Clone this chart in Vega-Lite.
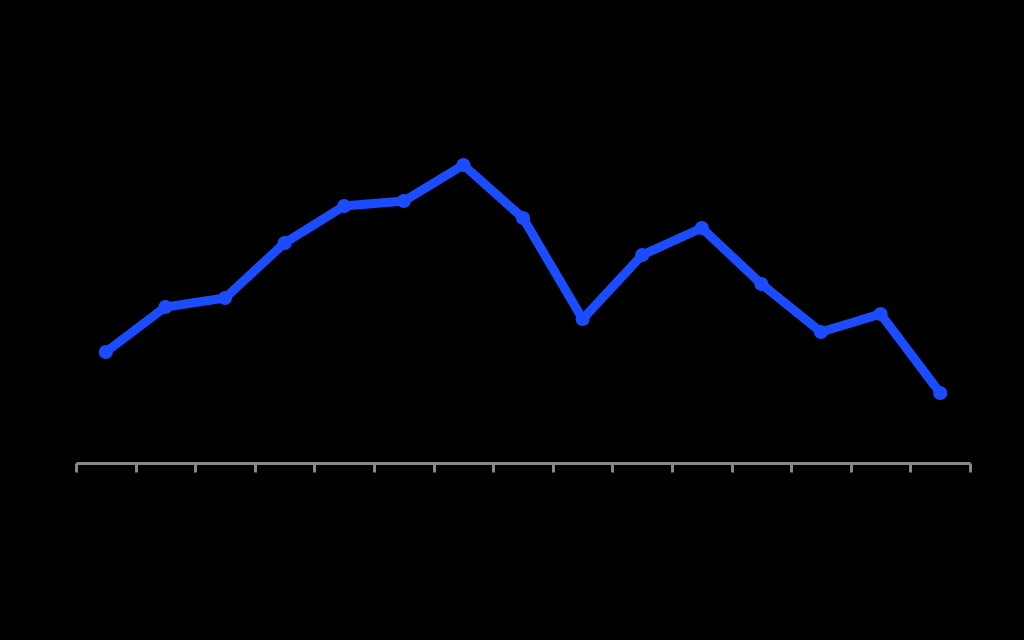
{
  "$schema": "https://vega.github.io/schema/vega-lite/v6.json",
  "autosize": {"type": "none"},
  "padding": {"left": 76, "top": 40, "right": 54, "bottom": 177},
  "width": 894,
  "height": 423,
  "background": "#000000",
  "config": {"view": {"stroke": null}},
  "data": {"values": [
    {"cat": "1", "value": 111},
    {"cat": "2", "value": 156},
    {"cat": "3", "value": 165},
    {"cat": "4", "value": 220},
    {"cat": "5", "value": 257},
    {"cat": "6", "value": 262},
    {"cat": "7", "value": 298},
    {"cat": "8", "value": 245},
    {"cat": "9", "value": 144},
    {"cat": "10", "value": 208},
    {"cat": "11", "value": 235},
    {"cat": "12", "value": 179},
    {"cat": "13", "value": 131},
    {"cat": "14", "value": 149},
    {"cat": "15", "value": 70}
  ]},
  "encoding": {
    "x": {
      "field": "cat", "type": "ordinal", "sort": null,
      "scale": {"paddingInner": 0, "paddingOuter": 0},
      "axis": {
        "title": null,
        "labelColor": "#000000",
        "domainColor": "#888888",
        "domainWidth": 3,
        "tickColor": "#888888",
        "tickWidth": 3,
        "tickSize": 9,
        "tickBand": "extent",
        "labelAngle": 0,
        "grid": false
      }
    },
    "y": {
      "field": "value", "type": "quantitative",
      "scale": {"domain": [0, 423], "nice": false, "zero": true},
      "axis": null
    }
  },
  "layer": [
    {"mark": {"type": "line", "color": "#1c4cff", "strokeWidth": 9, "strokeJoin": "miter"}},
    {"mark": {"type": "point", "filled": true, "color": "#1c4cff", "opacity": 1, "size": 200}}
  ]
}
